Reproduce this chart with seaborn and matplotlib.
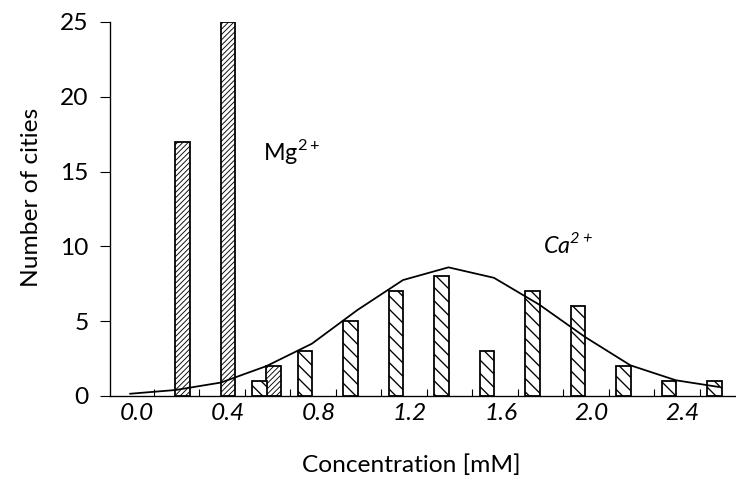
import numpy as np
import pandas as pd
import matplotlib
matplotlib.use("Agg")
import matplotlib.pyplot as plt
import seaborn as sns

# counts of cities per concentration bin
mg_x = [0.2, 0.4, 0.6]
mg_n = [17, 25, 2]
ca_x = [0.54, 0.74, 0.94, 1.14, 1.34, 1.54, 1.74, 1.94, 2.14, 2.34, 2.54]
ca_n = [1, 3, 5, 7, 8, 3, 7, 6, 2, 1, 1]

# fitted curve for Ca2+
fit_x = [-0.03, 0.17, 0.37, 0.57, 0.77, 0.97, 1.17, 1.37, 1.57, 1.77, 1.97, 2.17, 2.37, 2.56]
fit_y = [0.15, 0.4, 0.9, 2.0, 3.5, 5.75, 7.75, 8.6, 7.9, 6.1, 3.95, 2.05, 1.05, 0.6]

x_labels = [0.0, 0.4, 0.8, 1.2, 1.6, 2.0, 2.4]
x_minor = [0.075 + 0.2 * k for k in range(13)]
y_ticks = [0, 5, 10, 15, 20, 25]

sns.set_style("ticks")
plt.rcParams["font.family"] = ["Lato", "DejaVu Sans"]
plt.rcParams["text.color"] = "black"
plt.rcParams["axes.labelcolor"] = "black"
plt.rcParams["xtick.color"] = "black"
plt.rcParams["ytick.color"] = "black"

mg = pd.DataFrame({"conc": mg_x, "n": mg_n})
ca = pd.DataFrame({"conc": ca_x, "n": ca_n})

fig = plt.figure(figsize=(9.2, 6.1125), dpi=80)
ax = fig.add_axes([109.5 / 736, 93 / 489, (736 - 109.5) / 736, 374 / 489])

bar_kw = dict(native_scale=True, errorbar=None, width=0.32, color="white",
              edgecolor="black", linewidth=1.6, saturation=1)
plt.rcParams["hatch.linewidth"] = 0.8
sns.barplot(data=mg, x="conc", y="n", hatch="/////", ax=ax, **bar_kw)
plt.rcParams["hatch.linewidth"] = 1.2
sns.barplot(data=ca, x="conc", y="n", hatch="\\\\", ax=ax, **bar_kw)
sns.lineplot(x=fit_x, y=fit_y, color="black", linewidth=1.6, ax=ax)

ax.set_xlim(-0.12, 2.634)
ax.set_ylim(0, 25)
sns.despine(ax=ax)
for s in ["left", "bottom"]:
    ax.spines[s].set_linewidth(1.2)
    ax.spines[s].set_color("black")

ax.set_xticks(x_labels)
ax.set_xticklabels([f"{v:.1f}" for v in x_labels], fontsize=22, style="italic")
ax.set_xticks(x_minor, minor=True)
ax.tick_params(axis="x", which="major", length=0, pad=6)
ax.tick_params(axis="x", which="minor", direction="in", length=6, width=1)
ax.set_yticks(y_ticks)
ax.set_yticklabels([str(v) for v in y_ticks], fontsize=22)
ax.tick_params(axis="y", direction="out", length=9, width=1, pad=10)

ax.set_xlabel("Concentration [mM]", fontsize=22)
ax.set_ylabel("Number of cities", fontsize=22)
ax.xaxis.set_label_coords(0.482, -0.155)
ax.yaxis.set_label_coords(-0.108, 0.53)

ax.text(0.554, 15.8, r"Mg$^{\mathregular{2+}}$", fontsize=21)
ax.text(1.785, 9.56, r"Ca$^{\mathregular{2+}}$", fontsize=21, style="italic")

fig.savefig("out.png", dpi=80)
